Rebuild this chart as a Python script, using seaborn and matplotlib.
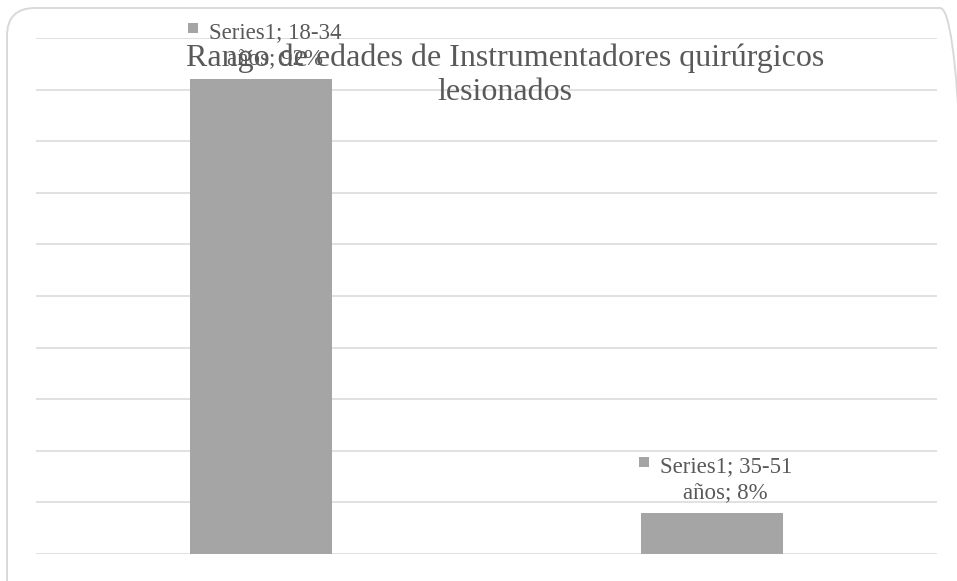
import matplotlib
matplotlib.use("Agg")
import matplotlib.pyplot as plt
from matplotlib.patches import FancyBboxPatch, Rectangle
import seaborn as sns
import pandas as pd

# ---- data ----
categories = ["18-34 años", "35-51 años"]
values = [0.92, 0.08]
series_name = "Series1"
label_texts = ["Series1; 18-34\naños; 92%", "Series1; 35-51\naños; 8%"]
title_text = "Rango de edades de Instrumentadores quirúrgicos\nlesionados"

df = pd.DataFrame({"cat": categories, "val": values})

sns.set_theme(style="white")
plt.rcParams["font.family"] = ["Liberation Serif", "DejaVu Serif"]

W, H, DPI = 957, 581, 100
fig = plt.figure(figsize=(W / DPI, H / DPI), dpi=DPI)
fig.patch.set_facecolor("white")

# axes placement in pixels
left, right, top_px, bottom_px = 36, 937, 38, 554
ax = fig.add_axes([left / W, (H - bottom_px) / H, (right - left) / W, (bottom_px - top_px) / H])

sns.barplot(data=df, x="cat", y="val", ax=ax, color="#a5a5a5", width=0.315,
            saturation=1, zorder=3)
for p in ax.patches:
    p.set_edgecolor("none")

ax.set_ylim(0, 1.0)
ax.set_xlim(-0.5, 1.5)
ax.set_yticks([i / 10 for i in range(11)])
ax.yaxis.grid(True, color="#d9d9d9", linewidth=1.1, zorder=0)
ax.xaxis.grid(False)
for s in ax.spines.values():
    s.set_visible(False)
ax.tick_params(left=False, bottom=False, labelleft=False, labelbottom=False)
ax.set_xlabel("")
ax.set_ylabel("")
ax.set_facecolor("none")

# data labels (va='baseline' aligns the last line's baseline)
txts = []
for i, (v, lab) in enumerate(zip(values, label_texts)):
    t = ax.annotate(lab, xy=(i, v), xytext=(14, 15), textcoords="offset pixels",
                    ha="center", va="baseline", multialignment="center",
                    fontsize=16.5, color="#595959", linespacing=1.31, zorder=5)
    txts.append(t)

# title (last line baseline at 100 px from top)
fig.text(505 / W, (H - 100) / H, title_text, ha="center", va="baseline",
         multialignment="center", fontsize=23.0, color="#595959", linespacing=1.22,
         zorder=6)

# rounded border
border = FancyBboxPatch((7 + 28, -40 + 28), 968 - 7 - 56, (H - 8) + 40 - 56,
                        boxstyle="round,pad=28", transform=None,
                        facecolor="none", edgecolor="#d9d9d9", linewidth=1.4)
fig.patches.append(border)

# legend-key squares beside first label line
fig.canvas.draw()
r = fig.canvas.get_renderer()
for i, t in enumerate(txts):
    bb = t.get_window_extent(r)
    sq = 10
    rect = Rectangle((bb.x0 - 11 - sq, bb.y1 - 1 - sq), sq, sq, transform=None,
                     facecolor="#a5a5a5", edgecolor="none")
    fig.patches.append(rect)

fig.savefig("out.png", dpi=DPI)
